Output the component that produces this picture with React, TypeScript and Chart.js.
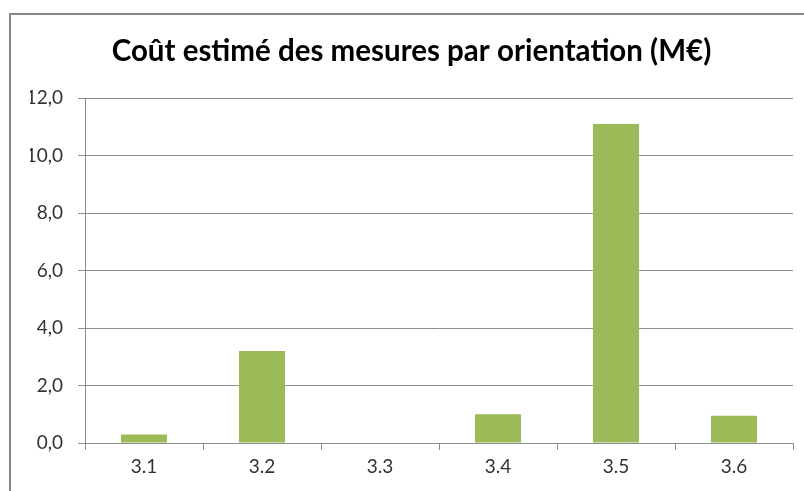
import React, { useEffect, useRef } from "react";
import { Chart, registerables } from "chart.js";

Chart.register(...registerables);

const categories = ["3.1", "3.2", "3.3", "3.4", "3.5", "3.6"];
const costValues = [0.3, 3.2, 0, 1.0, 11.1, 0.95];
const yTickMin = 0;
const yTickMax = 12;
const yTickStep = 2;
const titleText = "Coût estimé des mesures par orientation (M€)";

const frameBorder = {
  id: "frameBorder",
  afterDraw(chart: any) {
    const ctx = chart.ctx;
    ctx.save();
    ctx.strokeStyle = "#878787";
    ctx.lineWidth = 2;
    ctx.beginPath();
    ctx.moveTo(10, chart.height);
    ctx.lineTo(10, 14);
    ctx.lineTo(chart.width, 14);
    ctx.stroke();
    ctx.restore();
  },
};

export default function App() {
  const ref = useRef<HTMLCanvasElement>(null);
  useEffect(() => {
    if (!ref.current) return;
    const chart = new Chart(ref.current, {
      type: "bar",
      data: {
        labels: categories,
        datasets: [
          {
            data: costValues,
            backgroundColor: "#9BBB59",
            borderWidth: 0,
            categoryPercentage: 1,
            barPercentage: 0.39,
          },
        ],
      },
      options: {
        animation: false,
        responsive: false,
        maintainAspectRatio: false,
        layout: { padding: { left: 30, right: 11, top: 0, bottom: 0 } },
        plugins: {
          legend: { display: false },
          tooltip: { enabled: false },
          title: {
            display: true,
            text: titleText,
            color: "#000000",
            font: { family: "Lato", size: 29.5, weight: "bold" },
            padding: { top: 34, bottom: 28.6 },
          },
        },
        scales: {
          x: {
            offset: true,
            grid: {
              offset: true,
              drawOnChartArea: false,
              drawTicks: true,
              tickLength: 7,
              color: "#8c8c8c",
            },
            border: { display: true, color: "#8c8c8c", width: 1 },
            ticks: {
              color: "#333333",
              font: { family: "Lato", size: 19 },
              padding: 5,
              maxRotation: 0,
            },
            afterFit(scale: any) {
              scale.height = 48;
            },
          },
          y: {
            min: yTickMin,
            max: yTickMax,
            grid: {
              color: "#8c8c8c",
              drawTicks: true,
              tickLength: 7,
            },
            border: { display: true, color: "#8c8c8c", width: 1 },
            ticks: {
              stepSize: yTickStep,
              color: "#333333",
              font: { family: "Lato", size: 19 },
              padding: 15,
              callback: (v: any) => Number(v).toFixed(1).replace(".", ","),
            },
            afterFit(scale: any) {
              scale.width = 55;
            },
          },
        },
      },
      plugins: [frameBorder],
    });
    return () => chart.destroy();
  }, []);
  return (
    <div style={{ position: "fixed", left: 0, top: 0, width: 804, height: 491, background: "#fff" }}>
      <canvas ref={ref} width={804} height={491} style={{ display: "block" }} />
    </div>
  );
}
